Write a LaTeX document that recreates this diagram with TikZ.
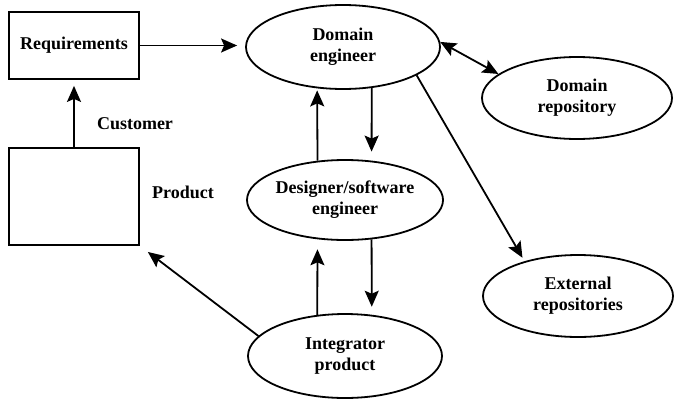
\documentclass[tikz,border=0pt]{standalone}
\usepackage{fontspec}
\setmainfont{Liberation Serif}
\usetikzlibrary{positioning, shapes.geometric, arrows.meta, calc}

\begin{document}
\begin{tikzpicture}[x=1pt, y=-1pt, line width=1.8pt,
        every node/.style={font=\fontsize{18}{21}\selectfont\bfseries, align=center},
        box/.style={draw, minimum width=130pt, inner sep=0pt},
        oval/.style={draw, ellipse, inner sep=0pt, minimum width=194pt, minimum height=84pt},
        arr/.style={-{Stealth[length=16pt, width=14pt, inset=3pt]}}]
      \useasboundingbox (0,0) rectangle (674,399);
      % boxes on the left
      \node[box, minimum height=67pt] (req) at (74,45.5) {Requirements};
      \node[box, minimum height=97pt] (prod) at (74,196.5) {};
      \node (cust) at (135,124) {Customer};
      \node (prodlbl) at (183,192) {Product};
      % engineers
      \node[oval] (dom) at (343,47) {Domain\\engineer};
      \node[oval, minimum height=80pt] (des) at (345,200) {Designer/software\\engineer};
      \node[oval] (integ) at (345,356) {Integrator\\product};
      % repositories
      \node[oval, minimum width=190pt, minimum height=82pt] (drep) at (577,98) {Domain\\repository};
      \node[oval, minimum width=190pt, minimum height=82pt] (ext) at (578,296) {External\\repositories};
      % connectors
      \draw[arr, shorten >=8pt] (req.east) -- (req.east -| dom.west);
      \draw[arr, shorten >=6pt] (prod.north) -- (req.south);
      \draw[{Stealth[length=16pt, width=14pt, inset=3pt]}-{Stealth[length=16pt, width=14pt, inset=3pt]}] (dom.3) -- (drep.163);
      \draw[arr, shorten >=4pt] (dom.339) -- (ext.147);
      \draw[arr, shorten >=9pt] (dom.305) -- (des.56);
      \draw[arr, shorten >=2pt] (des.125) -- (dom.238);
      \draw[arr, shorten >=8pt] (des.304) -- (integ.57);
      \draw[arr, shorten >=10pt] (integ.124) -- (des.235);
      \draw[arr, shorten >=10pt] (integ.167) -- (prod.south east);
    \end{tikzpicture}
\end{document}
